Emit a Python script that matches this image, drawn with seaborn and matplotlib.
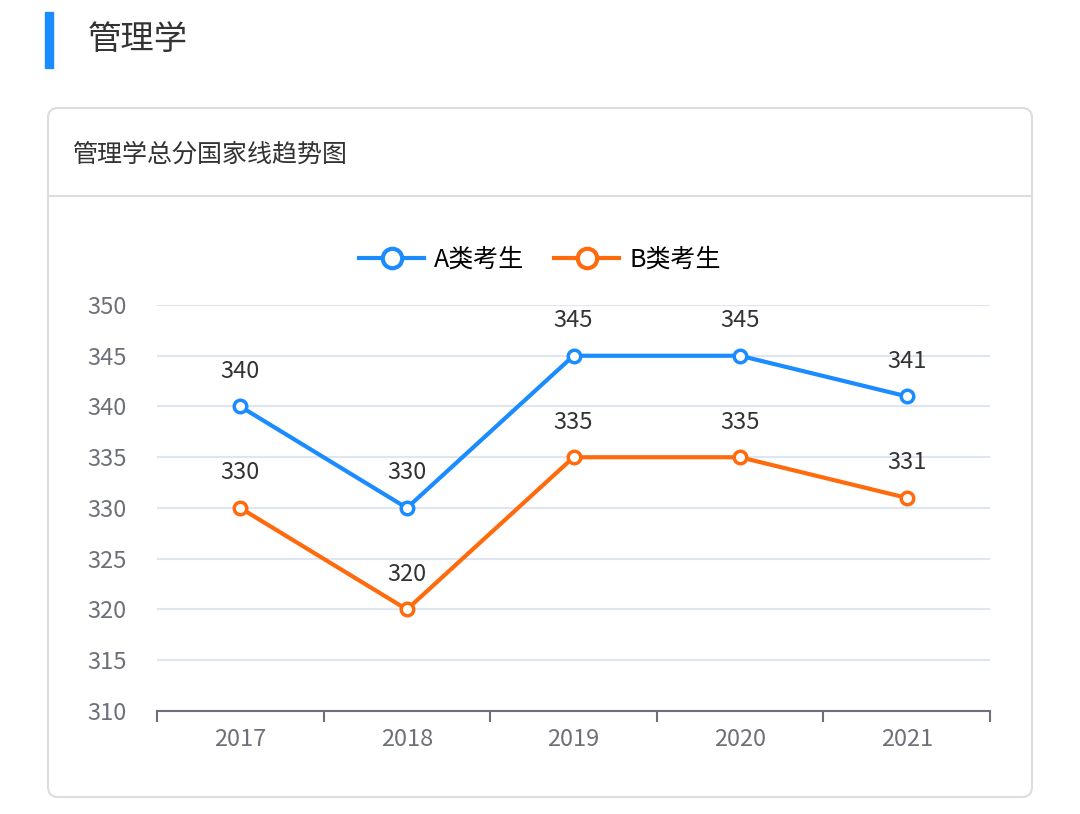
import matplotlib.pyplot as plt
import seaborn as sns
import pandas as pd
from matplotlib.patches import FancyBboxPatch, Rectangle
from matplotlib.lines import Line2D

plt.rcParams["font.family"] = "sans-serif"
plt.rcParams["font.sans-serif"] = ["Noto Sans CJK SC", "Noto Sans CJK JP", "DejaVu Sans"]

years = ["2017", "2018", "2019", "2020", "2021"]
a_scores = [340, 330, 345, 345, 341]
b_scores = [330, 320, 335, 335, 331]
series_names = ["A类考生", "B类考生"]
colors = ["#1a8cff", "#ff6a0d"]

df = pd.DataFrame({
    "idx": list(range(len(years))) * 2,
    "score": a_scores + b_scores,
    "group": [series_names[0]] * len(years) + [series_names[1]] * len(years),
})

W, H = 1080, 814
fig = plt.figure(figsize=(W / 100, H / 100), dpi=100)

# page decorations in pixel coords
bg = fig.add_axes([0, 0, 1, 1])
bg.set_xlim(0, W)
bg.set_ylim(H, 0)
bg.axis("off")
bg.add_patch(Rectangle((45, 12), 8, 56, color="#1a8cff"))
bg.text(88, 40, "管理学", fontsize=24, va="center", color="#333333")
bg.add_patch(FancyBboxPatch((48, 108), 984, 689, boxstyle="round,pad=0,rounding_size=10",
                            fc="white", ec="#dddddd", lw=1.5))
bg.plot([48, 1032], [196, 196], color="#dddddd", lw=1.5)
bg.text(72, 155, "管理学总分国家线趋势图", fontsize=18, va="center", color="#333333")

ax = fig.add_axes([157 / W, 1 - 711 / H, (990 - 157) / W, (711 - 305) / H])
sns.lineplot(data=df, x="idx", y="score", hue="group", palette=colors, ax=ax,
             lw=3, marker="o", markersize=9, markerfacecolor="white",
             markeredgewidth=2.5, legend=False)
for line, c in zip(ax.lines, colors):
    line.set_markeredgecolor(c)

for scores in (a_scores, b_scores):
    for i, v in enumerate(scores):
        ax.annotate(str(v), (i, v), xytext=(0, 17), textcoords="offset points",
                    ha="center", va="bottom", fontsize=17, color="#333333")

ax.set_xlim(-0.5, len(years) - 0.5)
ax.set_ylim(310, 350)
ax.set_yticks(range(310, 351, 5))
ax.set_xticks(range(len(years)))
ax.set_xticklabels(years)
ax.set_xticks([i - 0.5 for i in range(len(years) + 1)], minor=True)
ax.tick_params(axis="x", which="major", length=0, labelsize=17, colors="#6e7079", pad=12)
ax.tick_params(axis="x", which="minor", length=8, width=1.5, color="#6e7079")
ax.tick_params(axis="y", length=0, labelsize=17, labelcolor="#6e7079", pad=22)
ax.grid(axis="y", color="#e0e6f1", lw=1.5)
ax.set_axisbelow(True)
for s in ["top", "right", "left"]:
    ax.spines[s].set_visible(False)
ax.spines["bottom"].set_color("#6e7079")
ax.spines["bottom"].set_linewidth(1.5)
ax.set_xlabel("")
ax.set_ylabel("")

handles = [Line2D([0], [0], color=c, lw=3, marker="o", markersize=14,
                  markerfacecolor="white", markeredgewidth=3) for c in colors]
fig.legend(handles, series_names, loc="center", bbox_to_anchor=(540 / W, 1 - 260 / H),
           ncol=2, frameon=False, fontsize=18, handlelength=2.6, columnspacing=1.2,
           handletextpad=0.4)

fig.savefig("out.png", dpi=100)
